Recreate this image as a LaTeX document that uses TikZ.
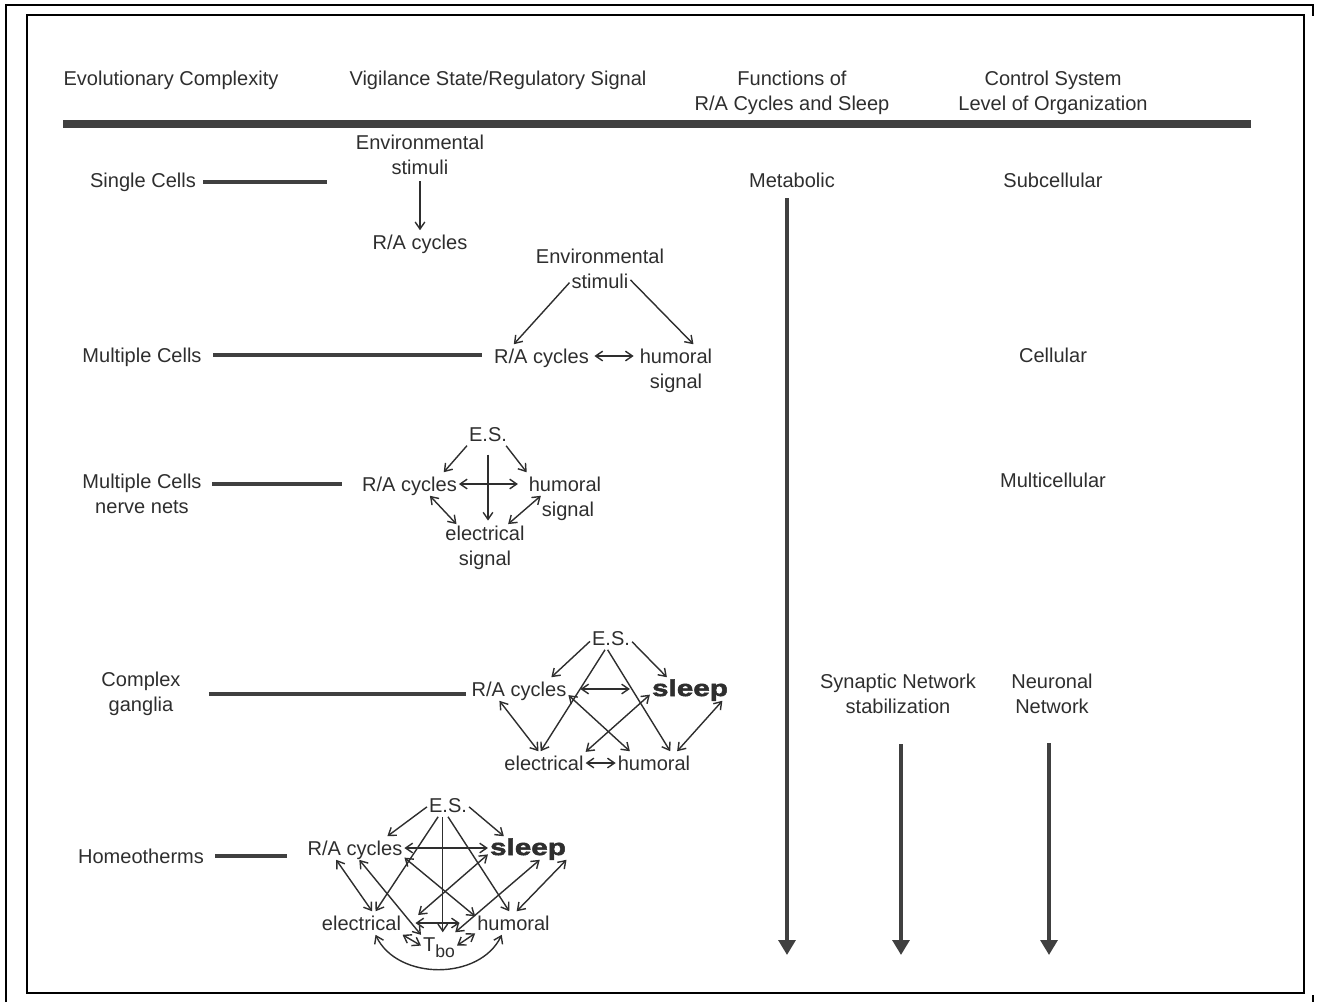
\documentclass[tikz,border=0pt]{standalone}
\usepackage{fontspec}
\setmainfont{Liberation Sans}
\newfontfamily\sleepfont{Liberation Sans Bold}[FakeStretch=1.3,FakeBold=2.2]
\usetikzlibrary{arrows.meta}
\definecolor{ink}{HTML}{2E2E2E}
\definecolor{bar}{HTML}{404040}
\tikzset{
  lbl/.style={text=ink, inner sep=1pt, text height=9.5pt, text depth=1.5pt},
  two/.style={text=ink, inner sep=1pt, align=center},
  sleepy/.style={font=\sleepfont\fontsize{13pt}{15pt}\selectfont},
  conn/.style={draw=ink, line width=0.8pt, -{Straight Barb[length=4pt,width=5.5pt]}},
  both/.style={conn, {Straight Barb[length=4pt,width=5.5pt]}-{Straight Barb[length=4pt,width=5.5pt]}},
  rowline/.style={draw=bar, line width=2.3pt},
  trend/.style={draw=bar, line width=2.2pt, -{Triangle[length=8.5pt,width=9.5pt]}}
}
\begin{document}
\begin{tikzpicture}[x=0.02cm, y=-0.02cm,
  every node/.append style={font=\fontsize{11.4pt}{14.2pt}\selectfont}]
  \useasboundingbox (0,0) rectangle (1324,1002);
  % frame
  \draw[line width=1.2pt] (6,1002) -- (6,5) -- (1313,5) -- (1313,16);
  \draw[line width=1.2pt] (1313,995) -- (1313,1002);
  \draw[line width=1.1pt] (27,15) rectangle (1304,993);
  % header
  \node[lbl] (hEvo) at (171,78) {Evolutionary Complexity};
  \node[lbl] (hVig) at (498,78) {Vigilance State/Regulatory Signal};
  \node[two] (hFun) at (792,92.5) {Functions of\\R/A Cycles and Sleep};
  \node[two] (hCtl) at (1053,92.5) {Control System\\Level of Organization};
  \draw[draw=bar, line width=4pt] (63,124) -- (1251,124);

  % single cells
  \node[lbl] (sc1) at (143,180) {Single Cells};
  \coordinate (sc1end) at (327,182);
  \node[two] (es1) at (420,155) {Environmental\\stimuli};
  \node[lbl] (ra1) at (420,242) {R/A cycles};
  \node[lbl] (me1) at (792,180) {Metabolic};
  \node[lbl] (su1) at (1053,180) {Subcellular};
  \draw[rowline, shorten <=3pt] (sc1.east |- sc1end) -- (sc1end);
  \draw[conn, shorten <=2.5pt] (es1.south) -- (ra1.north);

  % multiple cells
  \node[lbl] (mc2) at (142,355) {Multiple Cells};
  \node[lbl] (en2) at (600,256) {Environmental};
  \node[lbl] (st2) at (600,281) {stimuli};
  \node[lbl] (ra2) at (541.5,356) {R/A cycles};
  \node[lbl] (hu2) at (676,356) {humoral};
  \node[lbl] (hs2) at (676,381) {signal};
  \node[lbl] (ce2) at (1053,355) {Cellular};
  \draw[rowline, shorten <=5.5pt, shorten >=6pt] (mc2.east) -- (mc2.east -| ra2.west);
  \draw[conn] (st2.183) -- (ra2.157);
  \draw[conn] (st2.2) -- (hu2.34);
  \draw[both, shorten <=2pt, shorten >=2.3pt] (ra2.east) -- (hu2.west);

  % nerve nets
  \node[two] (mn3) at (142,494) {Multiple Cells\\nerve nets};
  \node[lbl] (es3) at (488,434) {E.S.};
  \node[lbl] (ra3) at (409.5,484) {R/A cycles};
  \node[lbl] (hu3) at (565,484) {humoral};
  \node[lbl] (hs3) at (568,509) {signal};
  \node[two] (el3) at (485,548) {electrical\\signal};
  \node[lbl] (mu3) at (1053,480) {Multicellular};
  \draw[rowline, shorten <=5pt, shorten >=10.5pt] (mn3.east |- ra3.west) -- (ra3.west);
  \draw[conn] (es3.209) -- (ra3.19);
  \draw[conn] (es3.327) -- (hu3.163);
  \draw[conn, shorten <=5pt, shorten >=2pt] (es3.south) -- (es3.south |- el3.north);
  \draw[both, shorten >=5pt] (ra3.east) -- (hu3.west);
  \draw[both] (ra3.330) -- (el3.140);
  \draw[both] (hu3.206) -- (el3.46);

  % complex ganglia
  \node[two] (cg4) at (141,694) {Complex\\ganglia};
  \node[lbl] (es4) at (611,638) {E.S.};
  \node[lbl] (ra4) at (519,689) {R/A cycles};
  \node[lbl, sleepy] (sl4) at (690,689) {sleep};
  \node[lbl] (el4) at (544,763) {electrical};
  \node[lbl] (hu4) at (654,763) {humoral};
  \node[two] (sy4) at (898,694) {Synaptic Network\\stabilization};
  \node[two] (ne4) at (1052,694) {Neuronal\\Network};
  \draw[rowline, shorten <=15pt, shorten >=2.3pt] (cg4.east) -- (cg4.east -| ra4.west);
  \draw[conn] (es4.189) -- (ra4.20);
  \draw[conn] (es4.-10) -- (sl4.153);
  \draw[conn] (es4.243) -- (el4.106);
  \draw[conn] (es4.254) -- (hu4.36);
  \draw[both, shorten <=6.8pt, shorten >=11.4pt] (ra4.east) -- (sl4.west);
  \draw[both] (ra4.211) -- (el4.115);
  \draw[both] (ra4.353) -- (hu4.154);
  \draw[both] (sl4.188) -- (el4.15);
  \draw[both] (sl4.340) -- (hu4.27);
  \draw[both] (el4.east) -- (hu4.west);

  % homeotherms
  \node[lbl] (ho5) at (141,856) {Homeotherms};
  \node[lbl] (es5) at (448,805) {E.S.};
  \node[lbl] (ra5) at (355,848) {R/A cycles};
  \node[lbl, sleepy] (sl5) at (528,848) {sleep};
  \node[lbl] (el5) at (361.5,923) {electrical};
  \node[lbl] (hu5) at (513.5,923) {humoral};
  \node[lbl] (tb5) at (439,944) {T\raisebox{-3.5pt}{\fontsize{10pt}{11pt}\selectfont bo}};
  \draw[rowline, shorten <=5.2pt, shorten >=10.8pt] (ho5.east) -- (ho5.east -| ra5.west);
  \draw[conn] (es5.185) -- (ra5.20);
  \draw[conn] (es5.355) -- (sl5.154);
  \draw[conn] (es5.230) -- (el5.40);
  \draw[conn] (es5.246) -- (es5.246 |- tb5.north);
  \draw[conn] (es5.south) -- (hu5.110);
  \draw[both] (ra5.east) -- (sl5.west);
  \draw[both] (ra5.212) -- (el5.48);
  \draw[both] (ra5.290) -- (tb5.153);
  \draw[both] (ra5.349) -- (hu5.170);
  \draw[both] (sl5.189) -- ([shift={(15,-8)}]el5.east);
  \draw[both] (sl5.315) -- (tb5.36);
  \draw[both] (sl5.343) -- (hu5.75);
  \draw[both, shorten <=7pt, shorten >=8.8pt] (el5.east) -- (hu5.west);
  \draw[both] (el5.344) -- (tb5.185);
  \draw[both] (hu5.195) -- (tb5.355);
  \draw[both] (el5.-40) .. controls +(22,46) and +(-22,46) .. (hu5.-135);

  % trends
  \coordinate (meEnd) at (787,955);
  \coordinate (syEnd) at (901,955);
  \coordinate (neEnd) at (1049,955);
  \draw[trend, shorten <=3.7pt] (me1.south -| meEnd) -- (meEnd);
  \draw[trend, shorten <=16pt] (sy4.south -| syEnd) -- (syEnd);
  \draw[trend, shorten <=15.4pt] (ne4.south -| neEnd) -- (neEnd);
\end{tikzpicture}
\end{document}
